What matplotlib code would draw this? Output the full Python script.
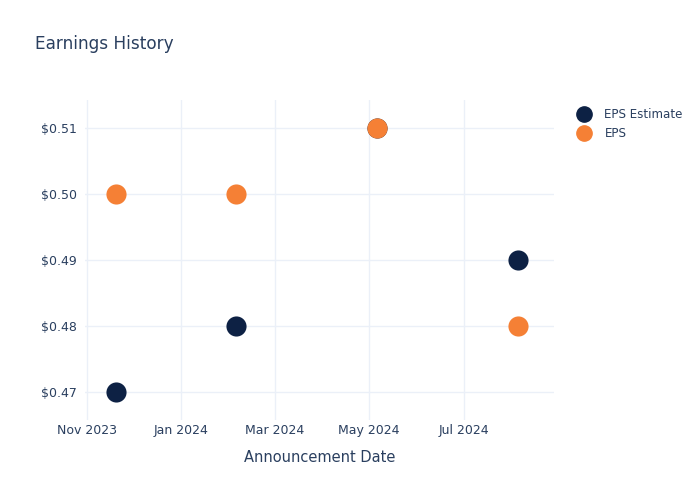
import matplotlib
matplotlib.use("Agg")
import matplotlib.pyplot as plt
import matplotlib.dates as mdates
from matplotlib.ticker import FuncFormatter
from matplotlib.lines import Line2D
import datetime as dt

# data
dates = [dt.date(2023, 11, 20), dt.date(2024, 2, 5), dt.date(2024, 5, 6), dt.date(2024, 8, 5)]
eps_estimate = [0.47, 0.48, 0.51, 0.49]
eps_actual = [0.50, 0.50, 0.51, 0.48]

navy = "#0d2144"
orange = "#f58035"
txt = "#2a3f5f"
grid = "#ebf0f8"

plt.rcParams["font.family"] = "DejaVu Sans"

fig = plt.figure(figsize=(7, 5), dpi=100)
ax = fig.add_axes([0.1215, 0.16, 0.67, 0.64])

ax.scatter(dates, eps_estimate, s=210, color=navy, zorder=3, linewidths=0)
ax.scatter(dates, eps_actual, s=210, color=orange, zorder=4, linewidths=0)

ax.set_xlim(dt.date(2023, 10, 31), dt.date(2024, 8, 28))
ax.set_ylim(0.4657, 0.5143)
ax.set_yticks([0.47, 0.48, 0.49, 0.50, 0.51])
ax.yaxis.set_major_formatter(FuncFormatter(lambda v, p: "$%.2f" % v))
ax.xaxis.set_major_locator(mdates.MonthLocator(bymonth=[1, 3, 5, 7, 11]))
ax.xaxis.set_major_formatter(mdates.DateFormatter("%b %Y"))

ax.grid(True, color=grid, linewidth=1)
ax.set_axisbelow(True)
for sp in ax.spines.values():
    sp.set_visible(False)
ax.tick_params(axis="both", length=0, labelcolor=txt, labelsize=9)
ax.tick_params(axis="x", pad=3)
ax.tick_params(axis="y", pad=6)

ax.set_xlabel("Announcement Date", color=txt, fontsize=10.5, labelpad=9)
fig.text(0.05, 0.912, "Earnings History", color=txt, fontsize=12.2, va="center")

handles = [
    Line2D([], [], marker="o", linestyle="", markersize=11, color=navy),
    Line2D([], [], marker="o", linestyle="", markersize=11, color=orange),
]
fig.legend(handles, ["EPS Estimate", "EPS"], loc="upper left", bbox_to_anchor=(0.808, 0.806),
           frameon=False, fontsize=8.6, labelcolor=txt, handletextpad=1.15,
           labelspacing=0.5, handlelength=1.2)

fig.savefig("out.png", dpi=100, facecolor="white")
